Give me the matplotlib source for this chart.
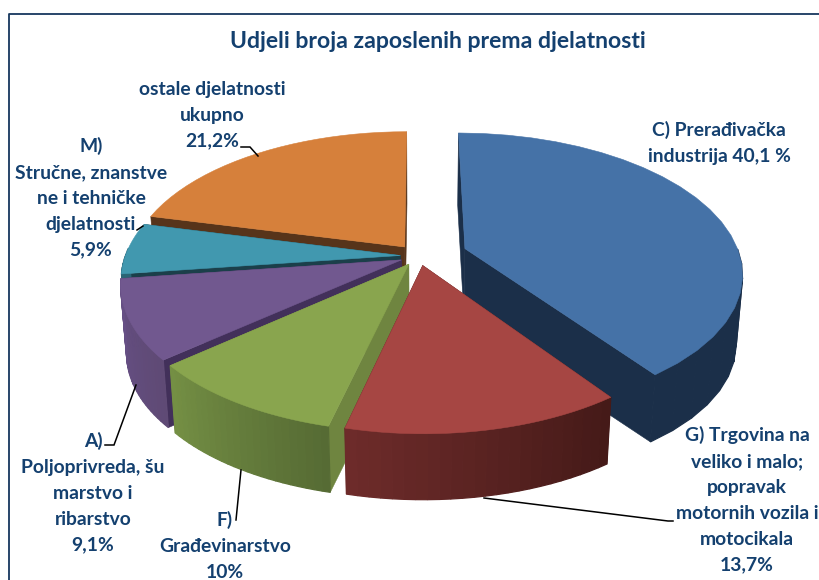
import numpy as np
import matplotlib
matplotlib.use("Agg")
import matplotlib.pyplot as plt
from matplotlib.patches import Polygon

# shares per activity, clockwise from 12 o'clock
activities = ["C", "G", "F", "A", "M", "ostale"]
shares = [40.1, 13.7, 10.0, 9.1, 5.9, 21.2]
explode = [0.177, 0.07, 0.07, 0.07, 0.068, 0.085]

title = "Udjeli broja zaposlenih prema djelatnosti"
label_texts = [
    "C) Prerađivačka\nindustrija 40,1 %",
    "G) Trgovina na\nveliko i malo;\npopravak\nmotornih vozila i\nmotocikala\n13,7%",
    "F)\nGrađevinarstvo\n10%",
    "A)\nPoljoprivreda, šu\nmarstvo i\nribarstvo\n9,1%",
    "M)\nStručne, znanstve\nne i tehničke\ndjelatnosti\n5,9%",
    "ostale djelatnosti\nukupno\n21,2%",
]

# colours: top, cut face, wall at start of arc, wall at end of arc
top_colors = ["#4572a7", "#a64643", "#89a54e", "#71588f", "#4198af", "#d6803b"]
face_colors = ["#1b2f49", "#4a1c19", "#6f8540", "#42305a", "#1b3f4a", "#57341a"]
wall_start = ["#1b2f49", "#451a18", "#566b34", "#5f4a75", "#2a6576", "#8a5226"]
wall_end = ["#1b2f49", "#6d2b2a", "#748f44", "#664f85", "#2a6576", "#8a5226"]

text_color = "#14406f"
frame_color = "#17375e"

# perspective of the pie, in pixels
cx, cy = 419, 256
rx, ry = 275, 137
persp = 0.165
depth = 69.5
shrink = 0.98


def project(u, v, bottom=False):
    s = 1 + persp * v
    x = cx + rx * u / s
    y = cy - ry * v / s
    if bottom:
        x = cx + (x - cx) * shrink
        y = cy + (y - cy) * shrink + depth
    return x, y


def hex_mix(c1, c2, t):
    a = np.array(matplotlib.colors.to_rgb(c1))
    b = np.array(matplotlib.colors.to_rgb(c2))
    return tuple(a + (b - a) * t)


def draw_slice(ax, i, start, end):
    mid = (start + end) / 2
    u0 = explode[i] * np.sin(mid)
    v0 = explode[i] * np.cos(mid)
    th = np.linspace(start, end, 25)
    us = u0 + np.sin(th)
    vs = v0 + np.cos(th)
    xt, yt = project(us, vs)
    xb, yb = project(us, vs, True)
    ax_t, ay_t = project(u0, v0)
    ax_b, ay_b = project(u0, v0, True)

    # the two cut faces
    for k in (0, -1):
        pts = [(ax_t, ay_t), (xt[k], yt[k]), (xb[k], yb[k]), (ax_b, ay_b)]
        ax.add_patch(Polygon(pts, closed=True, fc=face_colors[i], ec=face_colors[i], lw=0.4))

    # outer wall, shaded strip by strip, only the part facing the viewer
    for k in range(len(th) - 1):
        if np.cos(th[k]) > 0.05:
            continue
        pts = [(xt[k], yt[k]), (xt[k + 1], yt[k + 1]), (xb[k + 1], yb[k + 1]), (xb[k], yb[k])]
        col = hex_mix(wall_start[i], wall_end[i], k / (len(th) - 2))
        ax.add_patch(Polygon(pts, closed=True, fc=col, ec=col, lw=0.9))

    # top
    pts = [(ax_t, ay_t)] + list(zip(xt, yt))
    ax.add_patch(Polygon(pts, closed=True, fc=top_colors[i], ec=top_colors[i], lw=0.4))


plt.rcParams['font.family'] = ['Lato', 'DejaVu Sans']
fig = plt.figure(figsize=(8.19, 5.8), dpi=100)
ax = fig.add_axes([0, 0, 1, 1])
ax.set_xlim(0, 819)
ax.set_ylim(580, 0)
ax.axis("off")

# frame, cut off by the right and bottom of the picture
ax.plot([8.5, 8.5, 819], [580, 13.5, 13.5], color=frame_color, lw=1.3)

ax.text(438, 42, title, ha="center", va="center", fontsize=16.6, color=text_color, fontweight="bold")

angles = np.cumsum([0] + shares) / 100 * 2 * np.pi
for i in [5, 4, 3, 0, 2, 1]:
    draw_slice(ax, i, angles[i], angles[i + 1])

# leader lines
leaders = [
    ([241, 250, 258], [147, 147, 156]),
    ([137, 143], [230, 226]),
    ([105, 114, 136], [445, 445, 385]),
    ([236, 241], [520, 470]),
    ([673, 668, 484], [521, 521, 498]),
]
for xs, ys in leaders:
    ax.plot(xs, ys, color="black", lw=1.1, solid_joinstyle="miter")

label_pos = [(719, 143), (747, 500), (225, 546), (93, 493), (91, 198), (212, 115)]
for txt, (x, y) in zip(label_texts, label_pos):
    ax.text(x, y, txt, ha="center", va="center", fontsize=13.9, color=text_color,
            fontweight="bold", linespacing=1.63)

fig.savefig("out.png", dpi=100)
